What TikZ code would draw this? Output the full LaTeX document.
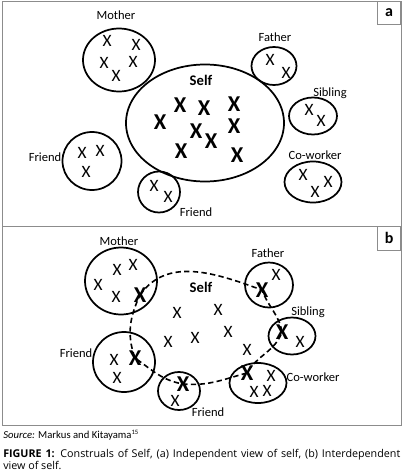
\documentclass[tikz,border=0pt]{standalone}
\usepackage{fontspec}
\setmainfont{Carlito}
\newfontfamily\capfont{Open Sans}
\usetikzlibrary{shapes.geometric}
\begin{document}
\begin{tikzpicture}[x=0.75pt,y=0.75pt,
  ring/.style={ellipse, draw, line width=1.3pt, inner sep=0pt},
  sx/.style={font=\fontsize{13}{13}\selectfont, inner sep=0pt},
  bx/.style={font=\bfseries\fontsize{17}{17}\selectfont, inner sep=0pt},
  lab/.style={font=\fontsize{9.4}{9.4}\selectfont, inner sep=0pt},
  frame/.style={draw=black!45, line width=0.6pt},
  dashlink/.style={dashed, dash pattern=on 4pt off 2.5pt, line width=1.2pt}]
\useasboundingbox (0,0) rectangle (403,-475);
% frames
\draw[frame] (2,-1) rectangle (401,-226);
\draw[frame] (2,-226) rectangle (401,-425);
\node[frame, draw, minimum width=17.25pt, minimum height=17.25pt, anchor=north east, font=\bfseries\fontsize{12}{12}\selectfont] (boxa) at (401,-1) {a};
\node[frame, draw, minimum width=17.25pt, minimum height=18pt, anchor=north east, font=\bfseries\fontsize{12}{12}\selectfont] (boxb) at (401,-226) {b};

% ---------------- panel a ----------------
\node[ring, minimum width=118.5pt, minimum height=87.75pt] (selfA) at (205,-123) {};
\node[font=\bfseries\fontsize{11}{11}\selectfont] (selfAl) at (201,-80) {Self};
\foreach \p/\n in {{(180,-105)}/1,{(204,-108)}/2,{(234,-104)}/3,{(160,-122)}/4,{(196,-131)}/5,{(234,-126)}/6,{(211,-141)}/7,{(181,-151)}/8,{(237,-155)}/9}
  \node[bx] (sa\n) at \p {X};

\node[ring, minimum width=54pt, minimum height=47.25pt] (motherA) at (119,-60) {};
\node[lab] (motherAl) at (116,-15) {Mother};
\foreach \p/\n in {{(107,-41)}/1,{(136,-45)}/2,{(104,-63)}/3,{(133,-62)}/4,{(116,-76)}/5}
  \node[sx] (ma\n) at \p {X};

\node[ring, minimum width=33.75pt, minimum height=28.5pt] (fatherA) at (274,-66) {};
\node[lab] (fatherAl) at (275,-37) {Father};
\node[sx] (fa1) at (270,-60) {X};
\node[sx] (fa2) at (286,-73) {X};

\node[ring, minimum width=36pt, minimum height=27.75pt] (siblingA) at (313,-116) {};
\node[lab] (siblingAl) at (330,-93) {Sibling};
\node[sx] (sia1) at (309,-110) {X};
\node[sx] (sia2) at (321,-121) {X};

\node[ring, minimum width=42.75pt, minimum height=30.75pt] (coworkerA) at (313,-182) {};
\node[lab] (coworkerAl) at (315,-155) {Co-worker};
\node[sx] (ca1) at (303,-175) {X};
\node[sx] (ca2) at (328,-182) {X};
\node[sx] (ca3) at (315,-192) {X};

\node[ring, minimum width=44.25pt, minimum height=43.5pt] (friendLA) at (92,-161) {};
\node[lab] (friendLAl) at (45,-157) {Friend};
\node[sx] (fla1) at (82,-153) {X};
\node[sx] (fla2) at (100,-151) {X};
\node[sx] (fla3) at (86,-172) {X};

\node[ring, minimum width=31.5pt, minimum height=30.75pt] (friendBA) at (159,-192) {};
\node[lab] (friendBAl) at (196,-212) {Friend};
\node[sx] (fba1) at (154,-186) {X};
\node[sx] (fba2) at (168,-197) {X};

% ---------------- panel b ----------------
\node[font=\bfseries\fontsize{11}{11}\selectfont] (selfBl) at (201,-287) {Self};

\node[ring, minimum width=54pt, minimum height=50.25pt] (motherB) at (121,-281) {};
\node[lab] (motherBl) at (119,-241) {Mother};
\node[sx] (mb1) at (117,-270) {X};
\node[sx] (mb2) at (133,-265) {X};
\node[sx] (mb3) at (98,-285) {X};
\node[sx] (mb4) at (116,-297) {X};
\node[bx] (mbX) at (140,-295) {X};

\node[ring, minimum width=36pt, minimum height=33.75pt] (fatherB) at (269,-285) {};
\node[lab] (fatherBl) at (268,-253) {Father};
\node[bx] (fbX) at (262,-290) {X};
\node[sx] (fb1) at (276,-275) {X};

\node[ring, minimum width=35.25pt, minimum height=27.75pt] (siblingB) at (292,-336) {};
\node[lab] (siblingBl) at (308,-312) {Sibling};
\node[bx] (sbX) at (282,-332) {X};
\node[sx] (sb1) at (300,-342) {X};

\node[ring, minimum width=42.75pt, minimum height=30pt] (coworkerB) at (258,-383) {};
\node[lab] (coworkerBl) at (313,-377) {Co-worker};
\node[bx] (cbX) at (247,-373) {X};
\node[sx] (cb1) at (271,-376) {X};
\node[sx] (cb2) at (254,-392) {X};
\node[sx] (cb3) at (267,-391) {X};

\node[ring, minimum width=46.5pt, minimum height=45pt] (friendLB) at (124,-362) {};
\node[lab] (friendLBl) at (76,-353) {Friend};
\node[sx] (flb1) at (114,-360) {X};
\node[bx] (flbX) at (135,-358) {X};
\node[sx] (flb2) at (117,-378) {X};

\node[ring, minimum width=31.5pt, minimum height=28.5pt] (friendBB) at (179,-391) {};
\node[lab] (friendBBl) at (208,-412) {Friend};
\node[bx] (fbbX) at (183,-384) {X};
\node[sx] (fbb1) at (175,-401) {X};

% free Xs in self (b)
\node[sx] (s1) at (177,-313) {X};
\node[sx] (s2) at (218,-310) {X};
\node[sx] (s3) at (228,-332) {X};
\node[sx] (s4) at (195,-338) {X};
\node[sx] (s5) at (168,-342) {X};
\node[sx] (s6) at (247,-350) {X};

% dashed self boundary through the bold Xs
\draw[dashlink] (mbX.center) to[out=55,in=160] (fbX.center)
  to[out=-70,in=100] (sbX.center)
  to[out=-110,in=60] (cbX.center)
  to[out=-165,in=-5] (fbbX.center)
  to[out=170,in=-35] (flbX.center)
  to[out=110,in=-115] (mbX.center);

% ---------------- caption ----------------
\node[anchor=west, inner sep=0pt, font=\fontsize{8}{9}\selectfont] (src) at (3,-435) {\textit{Source:} Markus and Kitayama\textsuperscript{\fontsize{5}{5}\selectfont 15}};
\node[anchor=north west, inner sep=0pt, text width=297.75pt, align=justify, font=\capfont\fontsize{8.05}{9.2}\selectfont] (cap) at (3,-449)
 {\textbf{FIGURE 1:} Construals of Self, (a) Independent view of self, (b) Interdependent\linebreak view of self.};
\end{tikzpicture}
\end{document}
